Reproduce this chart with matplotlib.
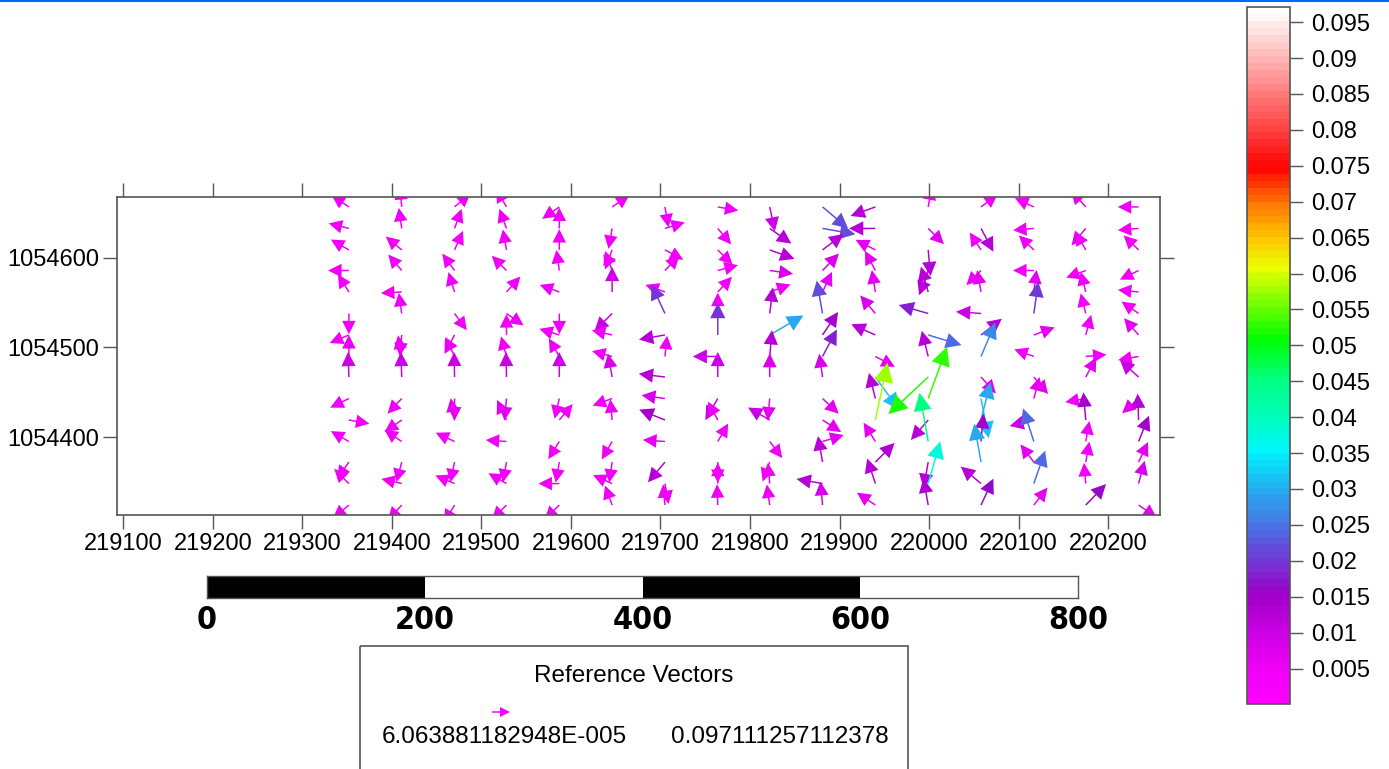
import numpy as np
import matplotlib
matplotlib.use("Agg")
import matplotlib.pyplot as plt
from matplotlib.colors import LinearSegmentedColormap, ListedColormap, BoundaryNorm
from matplotlib.cm import ScalarMappable
from matplotlib.patches import Rectangle

plt.rcParams['font.family'] = ['Liberation Sans', 'DejaVu Sans']

# vector origins (grid columns / rows, map units)
col_x = [219352, 219411, 219470, 219528, 219587, 219646, 219705, 219764,
         219822, 219881, 219940, 219999, 220058, 220117, 220175, 220234]
row_y = [1054657, 1054633, 1054609, 1054586, 1054562, 1054538, 1054514, 1054490,
         1054467, 1054443, 1054419, 1054395, 1054372, 1054348, 1054324]

# direction (deg, ccw from east) per column, top row first
ang_by_col = [
    [146, 166, 150, 180, 122, 270, 203, 90, 92, 206, -10, 150, 235, 135, 220],
    [95, 98, 140, 130, 183, 98, 265, 100, 92, 227, 215, 146, 255, 167, 228],
    [40, 70, 66, 126, 107, 306, 242, 115, 91, 270, 100, 155, 258, 157, 240],
    [120, 110, 100, 135, 48, -35, 90, 105, 91, 265, 115, 176, 260, 150, 225],
    [215, 90, 90, 98, 160, 270, 163, 120, 90, 257, 50, 238, 260, 180, 225],
    [34, 260, 250, 110, 90, 225, 167, 165, 100, 200, 95, 240, 262, 156, 110],
    [280, 17, -28, 46, 160, 115, 190, 84, 173, 172, 158, 176, 230, 280, 95],
    [-10, -50, -45, 15, 47, 90, 90, 180, 90, 240, 118, 60, 270, 90, 92],
    [-78, -35, -20, -8, 20, 83, 30, 85, 90, 265, 150, -53, 250, 95, 98],
    [-40, -10, 37, 46, 65, 100, 56, 62, 98, -43, -33, 17, 100, 170, 95],
    [200, 180, 153, 118, 99, 130, 156, -28, -54, 104, 78, 122, 45, 108, 146],
    [80, -45, -85, 250, 106, 164, -17, 104, 223, 70, 229, 100, 260, 74, 100],
    [37, -62, 123, 225, 100, 176, 38, 67, -48, -79, 76, 85, 100, 140, 65],
    [155, 185, 136, 180, 83, 82, 20, 160, -50, 75, 194, 108, 127, 71, 52],
    [132, 230, 120, 200, 104, 104, 75, 5, 62, 190, 95, 80, 80, 95, 46],
    [180, 185, 136, 206, 174, 145, 131, 190, 138, 222, 92, 68, 65, 75, -35],
]

# magnitude per column, top row first
mag_by_col = [
    [.004, .004, .004, .004, .004, .004, .004, .005, .010, .004, .004, .004, .004, .004, .004],
    [.004, .004, .004, .004, .004, .004, .005, .005, .010, .004, .004, .004, .004, .004, .004],
    [.004, .004, .004, .004, .004, .004, .005, .005, .010, .006, .006, .004, .004, .004, .004],
    [.004, .004, .004, .004, .004, .004, .004, .004, .010, .006, .006, .004, .004, .004, .004],
    [.004, .004, .004, .004, .004, .004, .004, .004, .010, .004, .004, .004, .004, .004, .004],
    [.004, .004, .004, .004, .010, .010, .004, .004, .008, .004, .004, .004, .004, .004, .004],
    [.004, .004, .004, .004, .004, .020, .012, .004, .012, .008, .014, .006, .012, .004, .004],
    [.004, .004, .004, .004, .004, .004, .020, .010, .010, .010, .004, .004, .004, .004, .004],
    [.010, .012, .012, .008, .006, .012, .030, .012, .008, .006, .010, .004, .004, .004, .004],
    [.022, .022, .012, .008, .006, .022, .014, .018, .008, .006, .006, .006, .012, .012, .008],
    [.012, .012, .006, .006, .006, .008, .012, .006, .032, .012, .058, .006, .013, .012, .006],
    [.004, .006, .012, .012, .012, .018, .024, .012, .052, .053, .012, .045, .012, .037, .013],
    [.004, .012, .004, .004, .006, .010, .012, .027, .006, .032, .030, .014, .030, .012, .016],
    [.004, .004, .004, .004, .006, .020, .006, .004, .006, .006, .010, .024, .006, .024, .006],
    [.006, .006, .004, .004, .004, .004, .004, .004, .006, .004, .014, .004, .004, .004, .016],
    [.004, .004, .004, .004, .004, .004, .006, .004, .010, .006, .012, .014, .006, .008, .006],
]

vmin_ref = 6.063881182948E-005
vmax_ref = 0.097111257112378
min_label = "6.063881182948E-005"
max_label = "0.097111257112378"

x_ticks = [219100, 219200, 219300, 219400, 219500, 219600, 219700, 219800,
           219900, 220000, 220100, 220200]
y_ticks = [1054400, 1054500, 1054600]
cbar_ticks = [0.005, 0.01, 0.015, 0.02, 0.025, 0.03, 0.035, 0.04, 0.045, 0.05,
              0.055, 0.06, 0.065, 0.07, 0.075, 0.08, 0.085, 0.09, 0.095]
cbar_labels = ['0.005', '0.01', '0.015', '0.02', '0.025', '0.03', '0.035', '0.04',
               '0.045', '0.05', '0.055', '0.06', '0.065', '0.07', '0.075', '0.08',
               '0.085', '0.09', '0.095']
scale_ticks = [0, 200, 400, 600, 800]

# colour ramp (value, rgb)
ramp = [(0.0, (255, 0, 255)), (0.005, (235, 0, 245)), (0.010, (200, 0, 225)),
        (0.015, (155, 0, 200)), (0.020, (110, 60, 215)), (0.025, (70, 120, 230)),
        (0.030, (35, 175, 240)), (0.035, (0, 245, 255)), (0.040, (0, 255, 185)),
        (0.045, (0, 255, 130)), (0.051, (0, 255, 0)), (0.056, (120, 255, 0)),
        (0.061, (235, 255, 0)), (0.065, (255, 200, 0)), (0.070, (255, 120, 0)),
        (0.075, (255, 0, 0)), (0.080, (255, 60, 60)), (0.085, (255, 115, 115)),
        (0.090, (255, 175, 175)), (0.0971, (255, 255, 255))]
pos = np.clip([(v - vmin_ref) / (vmax_ref - vmin_ref) for v, _ in ramp], 0, 1)
pos[0], pos[-1] = 0.0, 1.0
base = LinearSegmentedColormap.from_list(
    'ramp', [(p, tuple(c / 255 for c in rgb)) for p, (_, rgb) in zip(pos, ramp)])
nb = 100
cmap = ListedColormap(base(np.linspace(0, 1, nb)))
norm = BoundaryNorm(np.linspace(vmin_ref, vmax_ref, nb + 1), nb)

W, H = 1389, 769
fig = plt.figure(figsize=(W / 100, H / 100), dpi=100)

ax = fig.add_axes([117 / W, 1 - 515 / H, 1043 / W, 318 / H])
xmin, xmax = 219093.0, 220257.9
ymin, ymax = 1054312.9, 1054668.1
ax.set_xlim(xmin, xmax)
ax.set_ylim(ymin, ymax)
ppm = 1043 / (xmax - xmin)  # pixels per map unit

X, Y = np.meshgrid(col_x, row_y)
ang = np.array(ang_by_col).T
mag = np.array(mag_by_col).T
for x, y, a, m in zip(X.ravel(), Y.ravel(), ang.ravel(), mag.ravel()):
    L = (18 + 700 * m) / ppm
    hl = (13 + 110 * m) / ppm
    t = np.deg2rad(a)
    ax.arrow(x, y, L * np.cos(t), L * np.sin(t), width=1.5 / ppm,
             head_width=hl, head_length=hl, length_includes_head=True,
             color=cmap(norm(m)), lw=0)

ax.set_xticks(x_ticks)
ax.set_yticks(y_ticks)
ax.set_xticklabels([str(v) for v in x_ticks])
ax.set_yticklabels([str(v) for v in y_ticks])
ax.tick_params(direction='out', length=10, width=1, color='#555555',
               top=True, right=True, labelsize=17, pad=3)
for s in ax.spines.values():
    s.set_color('#555555')
    s.set_linewidth(1.2)

# colour scale
cax = fig.add_axes([1247 / W, 1 - 704 / H, 43 / W, 697 / H])
cb = fig.colorbar(ScalarMappable(norm=norm, cmap=cmap), cax=cax, ticks=cbar_ticks)
cb.minorticks_off()
cb.ax.set_yticklabels(cbar_labels)
cb.ax.tick_params(length=9, width=1, color='#555555', labelsize=17, pad=6)
cb.outline.set_edgecolor('#555555')
cb.outline.set_linewidth(1.2)

# scale bar
sax = fig.add_axes([207 / W, 1 - 598 / H, 871 / W, 22 / H])
sax.set_xlim(scale_ticks[0], scale_ticks[-1])
sax.set_ylim(0, 1)
for i, (a, b) in enumerate(zip(scale_ticks[:-1], scale_ticks[1:])):
    sax.axvspan(a, b, color='black' if i % 2 == 0 else 'white', lw=0)
sax.set_yticks([])
sax.set_xticks(scale_ticks)
sax.set_xticklabels([str(v) for v in scale_ticks], fontweight='bold', fontsize=23,
                    family=['Liberation Sans Narrow', 'DejaVu Sans'],
                    fontstretch='condensed')
sax.tick_params(length=0, pad=5)
for s in sax.spines.values():
    s.set_color('#555555')
    s.set_linewidth(1)

# legend box and page decorations
lax = fig.add_axes([0, 0, 1, 1])
lax.set_xlim(0, W)
lax.set_ylim(H, 0)
lax.axis('off')
lax.add_patch(Rectangle((360, 646), 548, 140, fill=False, edgecolor='#555555', lw=1.2))
lax.text(634, 676, 'Reference Vectors', fontsize=17.5, ha='center', va='center')
lax.arrow(492, 712, 18 + 700 * vmin_ref, 0, width=1.5, head_width=10, head_length=10,
          length_includes_head=True, color=cmap(norm(vmin_ref)), lw=0)
lax.arrow(740, 712, 18 + 700 * vmax_ref, 0, width=1.5, head_width=22, head_length=22,
          length_includes_head=True, color=cmap(norm(vmax_ref * 0.9999)), lw=0)
lax.text(504, 737, min_label, fontsize=17.5, ha='center', va='center')
lax.text(780, 737, max_label, fontsize=17.5, ha='center', va='center')
lax.plot([0, W], [0.8, 0.8], color='#0066ff', lw=1.5)

fig.savefig('out.png', dpi=100)
